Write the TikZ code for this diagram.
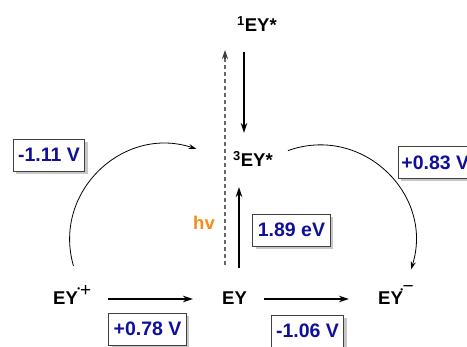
\documentclass[tikz,border=0pt]{standalone}
\usepackage{fontspec}
\setmainfont{Liberation Sans}
\usetikzlibrary{arrows.meta,shadows,calc}
\definecolor{valblue}{RGB}{15,15,155}
\definecolor{hvorange}{RGB}{245,140,20}
\begin{document}
\begin{tikzpicture}[x=1pt,y=-1pt,
  lbl/.style={font=\fontsize{18.5}{20}\selectfont\bfseries, inner sep=0pt, anchor=base west},
  valbox/.style={draw=black!75, line width=0.9pt, fill=white,
    font=\fontsize{19.5}{21}\selectfont\bfseries, text=valblue,
    minimum height=32pt, inner xsep=5pt, inner ysep=0pt,
    drop shadow={shadow xshift=3pt, shadow yshift=-3pt, fill=black!22, opacity=1}},
  bigarrow/.style={line width=1.5pt, -{Stealth[length=10pt,width=6.5pt]}},
  curvearrow/.style={line width=0.8pt, -{Stealth[length=8pt,width=5pt]}}]
\useasboundingbox (0,0) rectangle (467,347);
\clip (0,0) rectangle (467,347);

% species labels
\node[lbl] (s1) at (237,32) {\textsuperscript{1}EY*};
\node[lbl] (t3) at (233,167) {\textsuperscript{3}EY*};
\node[lbl] (eyp) at (53,305) {EY\hspace{-0.5pt}\raisebox{13.8pt}{\fontsize{8}{8}\selectfont\textbullet}\raisebox{8pt}{\fontsize{19}{19}\selectfont\mdseries +}};
\node[lbl] (ey) at (222,305) {EY};
\node[lbl] (eym) at (378,305) {EY\hspace{-2.5pt}\raisebox{12.6pt}{\fontsize{8}{8}\selectfont\textbullet}\hspace{-0.5pt}\raisebox{12.8pt}{\fontsize{19}{19}\selectfont\mdseries −}};
\node[lbl, text=hvorange] (hv) at (193,230) {hv};

% value boxes
\node[valbox] (b189) at (291.5,230) {1.89 eV};
\node[valbox] (b111) at (49,155) {-1.11 V};
\node[valbox, anchor=west, inner xsep=3pt] (b083) at (398,162.5) {+0.83 V};
\node[valbox] (b078) at (147.5,329) {+0.78 V};
\node[valbox] (b106) at (307.5,331) {-1.06 V};

% arrow end points
\coordinate (d1) at (225,265);
\coordinate (d2) at (225,50);
\coordinate (d3) at (225,59);
\coordinate (v1) at (244,52);
\coordinate (v2) at (244,133);
\coordinate (u1) at (239,268);
\coordinate (u2) at (239,187);
\coordinate (h1) at (108,299);
\coordinate (h2) at (193,299);
\coordinate (h3) at (264,299);
\coordinate (h4) at (349,299);
\coordinate (cl1) at (73.5,266);
\coordinate (cl2) at (196.5,149);
\coordinate (cr1) at (288,150.6);
\coordinate (cr2) at (411,269.5);

% connectors
\draw[line width=1.3pt, black!60, dash pattern=on 4pt off 3pt] (d1) -- (d3);
\draw[line width=1.3pt, black!75, -{Stealth[length=9pt,width=6pt]}] (d3) -- (d2);
\draw[bigarrow] (v1) -- (v2);
\draw[bigarrow] (u1) -- (u2);
\draw[bigarrow] (h1) -- (h2);
\draw[bigarrow] (h3) -- (h4);
\draw[curvearrow] (cl1) .. controls (52,192) and (123.3,124.9) .. (cl2);
\draw[curvearrow] (cr1) .. controls (362,124) and (434.6,194.3) .. (cr2);
\end{tikzpicture}
\end{document}
